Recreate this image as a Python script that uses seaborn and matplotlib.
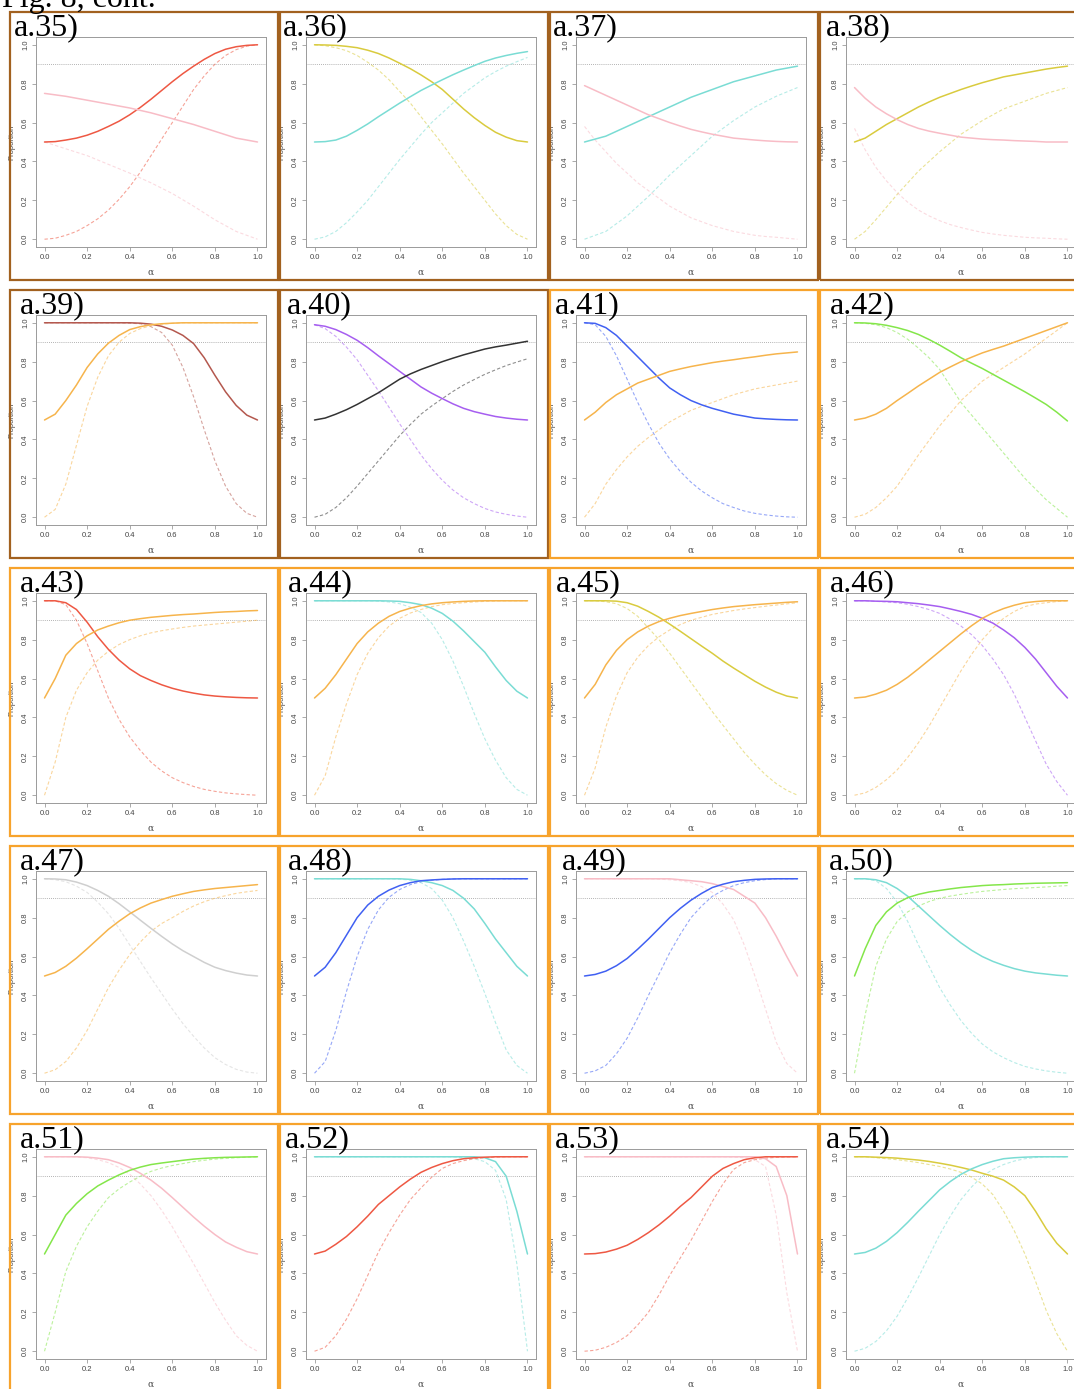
import matplotlib
matplotlib.use("Agg")
import matplotlib.pyplot as plt
from matplotlib.patches import Rectangle
import seaborn as sns

sns.set_style("white")
plt.rcParams['font.family'] = ['Liberation Sans', 'DejaVu Sans']

# ---------------- data ----------------
ALPHA = [0.0, 0.1, 0.2, 0.3, 0.4, 0.5, 0.6, 0.7, 0.8, 0.9, 1.0]
ALPHA21 = [0.0, 0.05, 0.1, 0.15, 0.2, 0.25, 0.3, 0.35, 0.4, 0.45, 0.5,
           0.55, 0.6, 0.65, 0.7, 0.75, 0.8, 0.85, 0.9, 0.95, 1.0]
TICKS = [0.0, 0.2, 0.4, 0.6, 0.8, 1.0]
TICK_LABELS = ["0.0", "0.2", "0.4", "0.6", "0.8", "1.0"]
THRESHOLD = 0.9
TITLE = "Fig. 8, cont."

a35_red = [0.50, 0.502, 0.51, 0.52, 0.535, 0.555, 0.58, 0.607, 0.64, 0.678, 0.72,
           0.765, 0.81, 0.852, 0.89, 0.925, 0.955, 0.977, 0.99, 0.997, 1.0]
a35_red_d = [0.0, 0.005, 0.02, 0.04, 0.07, 0.105, 0.15, 0.205, 0.27, 0.345, 0.43,
             0.515, 0.60, 0.685, 0.77, 0.84, 0.90, 0.945, 0.975, 0.993, 1.0]
a35_pink = [0.75, 0.735, 0.715, 0.695, 0.675, 0.65, 0.62, 0.59, 0.555, 0.52, 0.50]
a35_pink_d = [0.50, 0.465, 0.43, 0.385, 0.34, 0.29, 0.235, 0.17, 0.10, 0.04, 0.0]

a36_yellow = [1.0, 0.999, 0.997, 0.992, 0.985, 0.972, 0.955, 0.932, 0.905, 0.877, 0.845,
              0.81, 0.77, 0.72, 0.67, 0.625, 0.585, 0.55, 0.525, 0.507, 0.50]
a36_yellow_d = [1.0, 0.995, 0.985, 0.97, 0.945, 0.91, 0.87, 0.82, 0.76, 0.70, 0.63,
                0.56, 0.49, 0.415, 0.34, 0.27, 0.20, 0.13, 0.07, 0.025, 0.0]
a36_cyan = [0.50, 0.502, 0.51, 0.53, 0.56, 0.593, 0.63, 0.665, 0.70, 0.733, 0.765,
            0.793, 0.82, 0.846, 0.87, 0.893, 0.915, 0.932, 0.945, 0.956, 0.965]
a36_cyan_d = [0.0, 0.012, 0.04, 0.085, 0.14, 0.20, 0.27, 0.34, 0.41, 0.475, 0.54,
              0.60, 0.65, 0.70, 0.75, 0.79, 0.83, 0.862, 0.89, 0.913, 0.935]

a37_cyan = [0.50, 0.53, 0.58, 0.63, 0.68, 0.73, 0.77, 0.81, 0.84, 0.87, 0.89]
a37_cyan_d = [0.0, 0.04, 0.12, 0.22, 0.33, 0.43, 0.53, 0.61, 0.68, 0.735, 0.78]
a37_pink = [0.79, 0.765, 0.74, 0.715, 0.69, 0.665, 0.64, 0.62, 0.60, 0.582, 0.565,
            0.552, 0.54, 0.53, 0.52, 0.515, 0.51, 0.506, 0.503, 0.501, 0.50]
a37_pink_d = [0.58, 0.51, 0.45, 0.39, 0.34, 0.29, 0.25, 0.21, 0.17, 0.14, 0.11,
              0.09, 0.07, 0.055, 0.04, 0.03, 0.02, 0.014, 0.01, 0.005, 0.0]

a38_yellow = [0.50, 0.52, 0.555, 0.59, 0.62, 0.65, 0.68, 0.706, 0.73, 0.75, 0.77,
              0.788, 0.805, 0.82, 0.835, 0.845, 0.855, 0.865, 0.875, 0.883, 0.89]
a38_yellow_d = [0.0, 0.04, 0.10, 0.165, 0.23, 0.29, 0.35, 0.40, 0.45, 0.495, 0.54,
                0.575, 0.61, 0.64, 0.67, 0.69, 0.71, 0.73, 0.75, 0.765, 0.78]
a38_pink = [0.78, 0.725, 0.68, 0.645, 0.615, 0.59, 0.57, 0.556, 0.545, 0.535, 0.525,
            0.52, 0.515, 0.512, 0.51, 0.507, 0.505, 0.503, 0.50, 0.50, 0.50]
a38_pink_d = [0.57, 0.46, 0.37, 0.30, 0.24, 0.19, 0.15, 0.12, 0.095, 0.075, 0.06,
              0.047, 0.035, 0.027, 0.02, 0.015, 0.01, 0.007, 0.005, 0.002, 0.0]

a39_brown = [1.0, 1.0, 1.0, 1.0, 1.0, 1.0, 1.0, 1.0, 1.0, 0.998, 0.993,
             0.982, 0.963, 0.935, 0.893, 0.82, 0.73, 0.645, 0.575, 0.525, 0.50]
a39_brown_d = [1.0, 1.0, 1.0, 1.0, 1.0, 1.0, 1.0, 1.0, 0.998, 0.995, 0.98,
               0.95, 0.885, 0.77, 0.62, 0.45, 0.29, 0.16, 0.07, 0.02, 0.0]
a39_orange = [0.50, 0.53, 0.60, 0.68, 0.77, 0.84, 0.895, 0.935, 0.965, 0.98, 0.99,
              0.995, 0.998, 1.0, 1.0, 1.0, 1.0, 1.0, 1.0, 1.0, 1.0]
a39_orange_d = [0.0, 0.04, 0.17, 0.37, 0.57, 0.72, 0.83, 0.90, 0.945, 0.97, 0.985,
                0.993, 0.997, 1.0, 1.0, 1.0, 1.0, 1.0, 1.0, 1.0, 1.0]

a40_purple = [0.99, 0.982, 0.965, 0.94, 0.91, 0.872, 0.83, 0.79, 0.75, 0.71, 0.67,
              0.638, 0.61, 0.583, 0.56, 0.543, 0.53, 0.518, 0.51, 0.504, 0.50]
a40_purple_d = [0.99, 0.97, 0.93, 0.875, 0.81, 0.73, 0.65, 0.565, 0.48, 0.40, 0.32,
                0.25, 0.19, 0.14, 0.10, 0.07, 0.045, 0.027, 0.015, 0.006, 0.0]
a40_black = [0.50, 0.51, 0.53, 0.553, 0.58, 0.61, 0.64, 0.675, 0.71, 0.737, 0.76,
             0.78, 0.80, 0.818, 0.835, 0.85, 0.865, 0.876, 0.885, 0.895, 0.905]
a40_black_d = [0.0, 0.015, 0.05, 0.10, 0.16, 0.225, 0.29, 0.355, 0.42, 0.477, 0.53,
               0.572, 0.61, 0.647, 0.68, 0.708, 0.735, 0.758, 0.78, 0.798, 0.815]

a41_blue = [1.0, 0.997, 0.975, 0.935, 0.88, 0.825, 0.77, 0.715, 0.665, 0.63, 0.60,
            0.578, 0.56, 0.545, 0.53, 0.52, 0.51, 0.506, 0.503, 0.501, 0.50]
a41_blue_d = [1.0, 0.99, 0.93, 0.83, 0.71, 0.59, 0.48, 0.38, 0.30, 0.235, 0.18,
              0.135, 0.10, 0.07, 0.05, 0.032, 0.02, 0.012, 0.006, 0.002, 0.0]
a41_orange = [0.50, 0.54, 0.59, 0.63, 0.66, 0.69, 0.71, 0.73, 0.75, 0.763, 0.775,
              0.785, 0.795, 0.803, 0.81, 0.818, 0.825, 0.833, 0.84, 0.845, 0.85]
a41_orange_d = [0.0, 0.07, 0.17, 0.245, 0.31, 0.365, 0.41, 0.45, 0.49, 0.52, 0.55,
                0.57, 0.59, 0.61, 0.63, 0.645, 0.66, 0.67, 0.68, 0.69, 0.70]

a42_green = [1.0, 0.999, 0.995, 0.987, 0.975, 0.96, 0.94, 0.914, 0.885, 0.853, 0.82,
             0.792, 0.765, 0.735, 0.705, 0.675, 0.645, 0.613, 0.58, 0.54, 0.495]
a42_green_d = [1.0, 0.997, 0.99, 0.975, 0.95, 0.915, 0.87, 0.82, 0.76, 0.675, 0.59,
               0.525, 0.46, 0.395, 0.33, 0.265, 0.20, 0.145, 0.09, 0.045, 0.0]
a42_orange = [0.50, 0.51, 0.53, 0.56, 0.60, 0.637, 0.675, 0.71, 0.745, 0.773, 0.80,
              0.823, 0.845, 0.863, 0.88, 0.90, 0.92, 0.94, 0.96, 0.98, 1.0]
a42_orange_d = [0.0, 0.015, 0.05, 0.10, 0.16, 0.24, 0.32, 0.395, 0.47, 0.535, 0.60,
                0.65, 0.70, 0.735, 0.77, 0.805, 0.84, 0.88, 0.92, 0.96, 1.0]

a43_red = [1.0, 1.0, 0.99, 0.955, 0.89, 0.815, 0.75, 0.695, 0.65, 0.615, 0.59,
           0.568, 0.55, 0.536, 0.525, 0.516, 0.51, 0.506, 0.503, 0.501, 0.50]
a43_red_d = [1.0, 1.0, 0.98, 0.90, 0.78, 0.64, 0.50, 0.39, 0.30, 0.23, 0.17,
             0.125, 0.09, 0.065, 0.045, 0.03, 0.02, 0.012, 0.007, 0.003, 0.0]
a43_orange = [0.50, 0.60, 0.72, 0.78, 0.82, 0.85, 0.87, 0.887, 0.90, 0.908, 0.915,
              0.92, 0.925, 0.929, 0.932, 0.936, 0.94, 0.943, 0.945, 0.948, 0.95]
a43_orange_d = [0.0, 0.17, 0.40, 0.54, 0.63, 0.695, 0.74, 0.775, 0.80, 0.82, 0.835,
                0.846, 0.855, 0.863, 0.87, 0.875, 0.88, 0.885, 0.89, 0.895, 0.90]

a44_cyan = [1.0, 1.0, 1.0, 1.0, 1.0, 1.0, 1.0, 0.999, 0.997, 0.99, 0.98,
            0.962, 0.935, 0.895, 0.845, 0.79, 0.735, 0.66, 0.59, 0.535, 0.50]
a44_cyan_d = [1.0, 1.0, 1.0, 1.0, 1.0, 1.0, 0.998, 0.994, 0.985, 0.967, 0.94,
              0.885, 0.80, 0.69, 0.56, 0.42, 0.29, 0.18, 0.09, 0.03, 0.0]
a44_orange = [0.50, 0.55, 0.62, 0.70, 0.78, 0.84, 0.885, 0.92, 0.945, 0.962, 0.975,
              0.984, 0.99, 0.994, 0.997, 0.999, 1.0, 1.0, 1.0, 1.0, 1.0]
a44_orange_d = [0.0, 0.10, 0.30, 0.47, 0.62, 0.73, 0.81, 0.87, 0.91, 0.937, 0.955,
                0.97, 0.98, 0.986, 0.99, 0.994, 0.997, 0.999, 1.0, 1.0, 1.0]

a45_yellow = [1.0, 1.0, 1.0, 0.998, 0.99, 0.972, 0.945, 0.915, 0.88, 0.843, 0.805,
              0.767, 0.73, 0.69, 0.654, 0.62, 0.586, 0.556, 0.53, 0.51, 0.50]
a45_yellow_d = [1.0, 1.0, 0.995, 0.985, 0.96, 0.92, 0.86, 0.80, 0.73, 0.655, 0.58,
                0.505, 0.43, 0.36, 0.29, 0.22, 0.16, 0.105, 0.06, 0.025, 0.0]
a45_orange = [0.50, 0.57, 0.67, 0.745, 0.80, 0.84, 0.87, 0.893, 0.91, 0.924, 0.935,
              0.945, 0.955, 0.963, 0.97, 0.975, 0.98, 0.984, 0.988, 0.992, 0.995]
a45_orange_d = [0.0, 0.14, 0.35, 0.51, 0.63, 0.71, 0.77, 0.815, 0.85, 0.878, 0.90,
                0.915, 0.93, 0.94, 0.95, 0.958, 0.965, 0.972, 0.978, 0.984, 0.99]

a46_purple = [1.0, 1.0, 0.998, 0.997, 0.995, 0.99, 0.985, 0.978, 0.97, 0.958, 0.945,
              0.93, 0.91, 0.885, 0.85, 0.81, 0.76, 0.70, 0.63, 0.56, 0.50]
a46_purple_d = [1.0, 1.0, 0.997, 0.994, 0.99, 0.982, 0.97, 0.955, 0.935, 0.905, 0.87,
                0.825, 0.77, 0.70, 0.62, 0.52, 0.40, 0.28, 0.16, 0.07, 0.0]
a46_orange = [0.50, 0.505, 0.52, 0.54, 0.57, 0.607, 0.65, 0.695, 0.74, 0.785, 0.83,
              0.872, 0.91, 0.938, 0.96, 0.977, 0.99, 0.996, 1.0, 1.0, 1.0]
a46_orange_d = [0.0, 0.012, 0.04, 0.08, 0.13, 0.195, 0.27, 0.355, 0.45, 0.545, 0.64,
                0.725, 0.80, 0.86, 0.91, 0.945, 0.97, 0.983, 0.99, 0.996, 1.0]

a47_gray = [1.0, 0.999, 0.995, 0.983, 0.965, 0.94, 0.91, 0.872, 0.83, 0.787, 0.745,
            0.704, 0.665, 0.63, 0.60, 0.57, 0.545, 0.528, 0.515, 0.505, 0.50]
a47_gray_d = [1.0, 0.995, 0.985, 0.962, 0.93, 0.88, 0.82, 0.745, 0.66, 0.575, 0.49,
              0.41, 0.33, 0.255, 0.19, 0.13, 0.08, 0.045, 0.02, 0.006, 0.0]
a47_orange = [0.50, 0.518, 0.55, 0.592, 0.64, 0.69, 0.74, 0.782, 0.82, 0.85, 0.875,
              0.893, 0.91, 0.923, 0.935, 0.943, 0.95, 0.955, 0.96, 0.965, 0.97]
a47_orange_d = [0.0, 0.018, 0.06, 0.13, 0.22, 0.33, 0.44, 0.53, 0.61, 0.675, 0.73,
                0.77, 0.80, 0.832, 0.86, 0.882, 0.90, 0.913, 0.925, 0.933, 0.94]

a48_cyan = [1.0, 1.0, 1.0, 1.0, 1.0, 1.0, 1.0, 1.0, 1.0, 0.997, 0.99,
            0.98, 0.965, 0.94, 0.90, 0.845, 0.77, 0.69, 0.62, 0.55, 0.50]
a48_cyan_d = [1.0, 1.0, 1.0, 1.0, 1.0, 1.0, 1.0, 1.0, 0.998, 0.993, 0.98,
              0.95, 0.89, 0.80, 0.68, 0.55, 0.41, 0.26, 0.12, 0.04, 0.0]
a48_blue = [0.50, 0.545, 0.62, 0.71, 0.80, 0.865, 0.91, 0.942, 0.965, 0.98, 0.99,
            0.994, 0.997, 0.999, 1.0, 1.0, 1.0, 1.0, 1.0, 1.0, 1.0]
a48_blue_d = [0.0, 0.06, 0.22, 0.42, 0.60, 0.74, 0.84, 0.905, 0.945, 0.97, 0.985,
              0.992, 0.997, 0.999, 1.0, 1.0, 1.0, 1.0, 1.0, 1.0, 1.0]

a49_pink = [1.0, 1.0, 1.0, 1.0, 1.0, 1.0, 1.0, 1.0, 1.0, 0.995, 0.99,
            0.985, 0.975, 0.96, 0.945, 0.91, 0.875, 0.80, 0.705, 0.60, 0.50]
a49_pink_d = [1.0, 1.0, 1.0, 1.0, 1.0, 1.0, 1.0, 0.998, 0.995, 0.99, 0.98,
              0.96, 0.93, 0.87, 0.79, 0.66, 0.50, 0.33, 0.16, 0.05, 0.0]
a49_blue = [0.50, 0.508, 0.525, 0.553, 0.59, 0.638, 0.69, 0.745, 0.80, 0.848, 0.89,
            0.925, 0.955, 0.972, 0.985, 0.992, 0.997, 0.999, 1.0, 1.0, 1.0]
a49_blue_d = [0.0, 0.012, 0.04, 0.10, 0.18, 0.285, 0.40, 0.51, 0.62, 0.715, 0.80,
              0.86, 0.91, 0.94, 0.965, 0.98, 0.99, 0.996, 1.0, 1.0, 1.0]

a50_cyan = [1.0, 1.0, 0.995, 0.98, 0.95, 0.91, 0.86, 0.81, 0.76, 0.713, 0.67,
            0.632, 0.60, 0.575, 0.555, 0.538, 0.525, 0.516, 0.51, 0.504, 0.50]
a50_cyan_d = [1.0, 1.0, 0.99, 0.95, 0.88, 0.78, 0.66, 0.55, 0.44, 0.35, 0.27,
              0.205, 0.15, 0.11, 0.08, 0.055, 0.035, 0.022, 0.012, 0.005, 0.0]
a50_green = [0.50, 0.64, 0.76, 0.83, 0.875, 0.903, 0.92, 0.932, 0.94, 0.948, 0.955,
             0.96, 0.965, 0.968, 0.97, 0.973, 0.975, 0.977, 0.978, 0.979, 0.98]
a50_green_d = [0.0, 0.30, 0.55, 0.69, 0.78, 0.83, 0.86, 0.883, 0.90, 0.911, 0.92,
               0.928, 0.935, 0.94, 0.945, 0.949, 0.952, 0.955, 0.958, 0.962, 0.965]

a51_pink = [1.0, 1.0, 1.0, 1.0, 0.998, 0.993, 0.985, 0.968, 0.945, 0.915, 0.88,
            0.838, 0.79, 0.74, 0.69, 0.643, 0.60, 0.562, 0.535, 0.512, 0.50]
a51_pink_d = [1.0, 1.0, 1.0, 0.999, 0.995, 0.985, 0.97, 0.945, 0.91, 0.86, 0.80,
              0.725, 0.64, 0.545, 0.45, 0.35, 0.25, 0.16, 0.08, 0.03, 0.0]
a51_green = [0.50, 0.60, 0.70, 0.76, 0.81, 0.85, 0.88, 0.907, 0.93, 0.947, 0.96,
             0.968, 0.975, 0.982, 0.988, 0.992, 0.995, 0.997, 0.998, 0.999, 1.0]
a51_green_d = [0.0, 0.20, 0.41, 0.54, 0.64, 0.72, 0.79, 0.835, 0.87, 0.90, 0.925,
               0.942, 0.955, 0.965, 0.975, 0.982, 0.988, 0.992, 0.995, 0.998, 1.0]

a52_cyan = [1.0, 1.0, 1.0, 1.0, 1.0, 1.0, 1.0, 1.0, 1.0, 1.0, 1.0,
            1.0, 1.0, 1.0, 1.0, 1.0, 0.995, 0.975, 0.90, 0.72, 0.50]
a52_cyan_d = [1.0, 1.0, 1.0, 1.0, 1.0, 1.0, 1.0, 1.0, 1.0, 1.0, 1.0,
              1.0, 1.0, 1.0, 0.995, 0.99, 0.975, 0.93, 0.78, 0.45, 0.0]
a52_red = [0.50, 0.515, 0.55, 0.59, 0.64, 0.695, 0.755, 0.80, 0.845, 0.885, 0.92,
           0.945, 0.965, 0.98, 0.99, 0.995, 0.998, 1.0, 1.0, 1.0, 1.0]
a52_red_d = [0.0, 0.02, 0.08, 0.165, 0.27, 0.39, 0.51, 0.61, 0.70, 0.78, 0.84,
             0.895, 0.94, 0.965, 0.98, 0.99, 0.995, 0.998, 1.0, 1.0, 1.0]

a53_pink = [1.0, 1.0, 1.0, 1.0, 1.0, 1.0, 1.0, 1.0, 1.0, 1.0, 1.0,
            1.0, 1.0, 1.0, 1.0, 1.0, 1.0, 0.99, 0.95, 0.80, 0.50]
a53_pink_d = [1.0, 1.0, 1.0, 1.0, 1.0, 1.0, 1.0, 1.0, 1.0, 1.0, 1.0,
              1.0, 1.0, 1.0, 0.998, 0.995, 0.985, 0.95, 0.70, 0.30, 0.0]
a53_red = [0.50, 0.502, 0.51, 0.525, 0.545, 0.575, 0.61, 0.65, 0.695, 0.745, 0.79,
           0.845, 0.90, 0.94, 0.965, 0.985, 0.995, 1.0, 1.0, 1.0, 1.0]
a53_red_d = [0.0, 0.005, 0.02, 0.045, 0.08, 0.135, 0.20, 0.29, 0.39, 0.48, 0.57,
             0.67, 0.77, 0.86, 0.935, 0.97, 0.985, 0.993, 0.997, 0.999, 1.0]

a54_yellow = [1.0, 1.0, 0.998, 0.996, 0.993, 0.988, 0.983, 0.976, 0.967, 0.957, 0.945,
              0.932, 0.915, 0.90, 0.88, 0.845, 0.80, 0.72, 0.63, 0.555, 0.50]
a54_yellow_d = [1.0, 1.0, 0.995, 0.99, 0.985, 0.978, 0.97, 0.96, 0.95, 0.937, 0.92,
                0.895, 0.86, 0.805, 0.72, 0.62, 0.50, 0.36, 0.21, 0.09, 0.0]
a54_cyan = [0.50, 0.508, 0.53, 0.565, 0.61, 0.663, 0.72, 0.775, 0.83, 0.873, 0.91,
            0.938, 0.96, 0.977, 0.99, 0.995, 0.998, 1.0, 1.0, 1.0, 1.0]
a54_cyan_d = [0.0, 0.015, 0.05, 0.105, 0.18, 0.275, 0.38, 0.49, 0.60, 0.695, 0.78,
              0.845, 0.90, 0.935, 0.96, 0.978, 0.99, 0.996, 1.0, 1.0, 1.0]

PANELS = [
    ("a.35)", [("red", a35_red, a35_red_d), ("pink", a35_pink, a35_pink_d)]),
    ("a.36)", [("yellow", a36_yellow, a36_yellow_d), ("cyan", a36_cyan, a36_cyan_d)]),
    ("a.37)", [("cyan", a37_cyan, a37_cyan_d), ("pink", a37_pink, a37_pink_d)]),
    ("a.38)", [("yellow", a38_yellow, a38_yellow_d), ("pink", a38_pink, a38_pink_d)]),
    ("a.39)", [("brown", a39_brown, a39_brown_d), ("orange", a39_orange, a39_orange_d)]),
    ("a.40)", [("purple", a40_purple, a40_purple_d), ("black", a40_black, a40_black_d)]),
    ("a.41)", [("blue", a41_blue, a41_blue_d), ("orange", a41_orange, a41_orange_d)]),
    ("a.42)", [("green", a42_green, a42_green_d), ("orange", a42_orange, a42_orange_d)]),
    ("a.43)", [("red", a43_red, a43_red_d), ("orange", a43_orange, a43_orange_d)]),
    ("a.44)", [("cyan", a44_cyan, a44_cyan_d), ("orange", a44_orange, a44_orange_d)]),
    ("a.45)", [("yellow", a45_yellow, a45_yellow_d), ("orange", a45_orange, a45_orange_d)]),
    ("a.46)", [("purple", a46_purple, a46_purple_d), ("orange", a46_orange, a46_orange_d)]),
    ("a.47)", [("gray", a47_gray, a47_gray_d), ("orange", a47_orange, a47_orange_d)]),
    ("a.48)", [("cyan", a48_cyan, a48_cyan_d), ("blue", a48_blue, a48_blue_d)]),
    ("a.49)", [("pink", a49_pink, a49_pink_d), ("blue", a49_blue, a49_blue_d)]),
    ("a.50)", [("cyan", a50_cyan, a50_cyan_d), ("green", a50_green, a50_green_d)]),
    ("a.51)", [("pink", a51_pink, a51_pink_d), ("green", a51_green, a51_green_d)]),
    ("a.52)", [("cyan", a52_cyan, a52_cyan_d), ("red", a52_red, a52_red_d)]),
    ("a.53)", [("pink", a53_pink, a53_pink_d), ("red", a53_red, a53_red_d)]),
    ("a.54)", [("yellow", a54_yellow, a54_yellow_d), ("cyan", a54_cyan, a54_cyan_d)]),
]

# ---------------- styles ----------------
COLORS = {
    "red": "#ee5843", "pink": "#f8bcc6", "cyan": "#7adcd4", "yellow": "#d9cb3e",
    "orange": "#f6b44c", "brown": "#b4584e", "purple": "#a65ef0", "black": "#333333",
    "blue": "#4060f2", "green": "#84e64a", "gray": "#cfcfcf",
}
BORDER_BROWN = "#a2611f"
BORDER_ORANGE = "#f7a32c"
N_BROWN = 6
LABEL_DX = [4, 3, 3, 6, 10, 7, 5, 10, 10, 8, 6, 10, 10, 8, 12, 9, 10, 5, 5, 6]


def xgrid(vals):
    return ALPHA21 if len(vals) == len(ALPHA21) else ALPHA


W, H = 1074, 1389
fig = plt.figure(figsize=(W / 100, H / 100), dpi=100)

fig.text(2 / W, 1 - 7 / H, TITLE, fontsize=23, family=['Liberation Serif', 'DejaVu Serif'],
         va='baseline', ha='left', color='black')

for i, (label, curves) in enumerate(PANELS):
    r, c = divmod(i, 4)
    pl = 10 + 270 * c
    pt = 12 + 278 * r
    bcol = BORDER_BROWN if i < N_BROWN else BORDER_ORANGE
    fig.add_artist(Rectangle((pl / W, 1 - (pt + 268) / H), 268 / W, 268 / H,
                             transform=fig.transFigure, fill=False,
                             edgecolor=bcol, linewidth=1.6, zorder=1))
    ax = fig.add_axes([(pl + 26) / W, 1 - (pt + 25 + 210) / H, 230 / W, 210 / H])
    ax.axhline(THRESHOLD, color="#9a9a9a", lw=0.6, ls=(0, (1, 1.5)), zorder=1)
    for cname, solid, dashed in curves:
        sns.lineplot(x=xgrid(dashed), y=dashed, ax=ax, color=COLORS[cname], lw=0.8,
                     alpha=0.55, linestyle=(0, (3, 2)), zorder=2)
    for cname, solid, dashed in curves:
        sns.lineplot(x=xgrid(solid), y=solid, ax=ax, color=COLORS[cname], lw=1.1, zorder=3)
    ax.set_xlim(-0.04, 1.04)
    ax.set_ylim(-0.04, 1.04)
    ax.set_xticks(TICKS)
    ax.set_xticklabels(TICK_LABELS)
    ax.set_yticks(TICKS)
    ax.set_yticklabels(TICK_LABELS, rotation=90, va='center')
    ax.tick_params(axis='both', length=3, width=0.5, color='#888888', labelsize=5.5,
                   labelcolor='#444444', pad=2, direction='out',
                   bottom=True, left=True)
    for sp in ax.spines.values():
        sp.set_color('#9a9a9a')
        sp.set_linewidth(0.7)
    ax.set_xlabel("")
    ax.set_ylabel("")
    ax.text(-0.105, 0.5, "Proportion", transform=ax.transAxes, rotation=90,
            ha='center', va='center', fontsize=5.5, color='#444444')
    ax.text(0.5, -0.12, "α", transform=ax.transAxes, ha='center', va='center',
            fontsize=6.5, color='#444444', family=['DejaVu Serif'])
    fig.text((pl + LABEL_DX[i]) / W, 1 - (pt + 23) / H, label, fontsize=23,
             family=['Liberation Serif', 'DejaVu Serif'], va='baseline', ha='left',
             color='black', zorder=10)

fig.savefig("out.png", dpi=100)
